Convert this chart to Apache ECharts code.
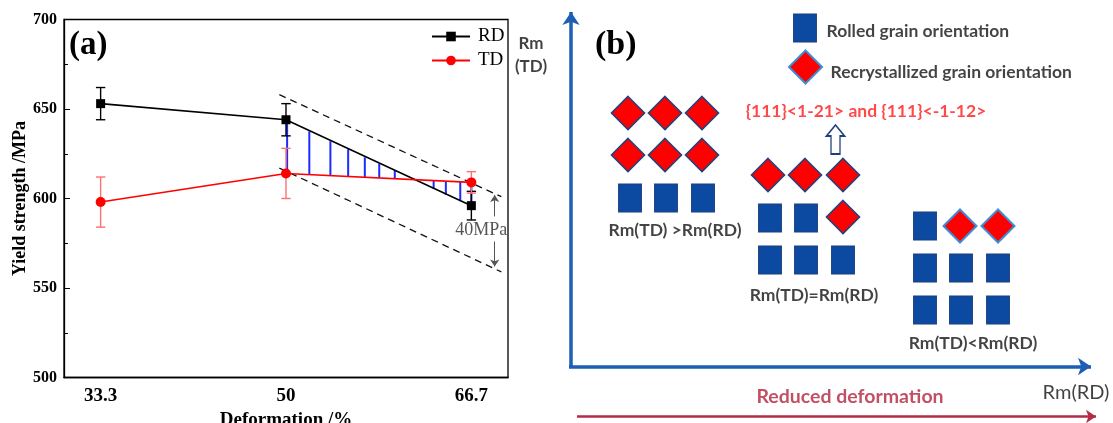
<!DOCTYPE html>
<html><head><meta charset="utf-8">
<script src="https://cdn.jsdelivr.net/npm/echarts@6/dist/echarts.min.js"></script>
<style>html,body{margin:0;padding:0;background:#fff}#c{width:1113px;height:423px}</style>
</head><body><div id="c"></div>
<script>
// ---------- Panel (a): yield strength vs deformation ----------
var deformation = [33.3, 50, 66.7];
var xTickLabels = [33.3, 50, 66.7];
var rdStrength = [653, 644, 596];
var rdError = [9, 9, 8];
var tdStrength = [598, 614, 609];
var tdError = [14, 14, 6];
// blue hatching between the RD and TD curves: x, RD end, TD end
var hatchX  = [50.1, 52.1, 54.0, 55.6, 57.1, 58.4, 59.8, 63.3, 64.4, 65.7, 66.7];
var hatchRD = [643, 637.5, 632, 627.5, 623, 619.5, 615.5, 605.5, 602, 598.5, 596];
var hatchTD = [614, 613.5, 613, 612.5, 612, 611.5, 611, 610, 609.5, 609.5, 609];
// dashed band
var bandUpper = [[49.4, 658], [69.4, 601]];
var bandLower = [[49.4, 617], [69.4, 559]];
// 40 MPa gap arrows
var gapArrowUp = [[68.8, 590], [68.8, 602]];
var gapArrowDown = [[68.8, 576], [68.8, 562]];
var gapLabel = [{name: '40MPa', value: [67.6, 582]}];

// ---------- Panel (b): schematic (schematic units) ----------
var squaresAll = [[630,198],[666,198],[703,198],
                  [770,218],[806,218],[770,260],[806,260],[843,260],
                  [925,226],[925,268],[961,268],[998,268],[925,310],[961,310],[998,310],
                  [805,28]];
var diamondsDark = [[628,113],[665,113],[702,113],[628,155],[665,155],[702,155],
                    [768,175],[805,175],[843,175],[843,217]];
var diamondsLight = [[960,226],[998,226],[805.5,67]];
var upArrow = [[835.5,139.5]];
var axisArrows = [[[571,368],[571,12]], [[569,366.5],[1091,366.5]]];
var deformArrow = [[[577,416.5],[1096,416.5]]];
var caseLabels = [
  {name:'Rm(TD) >Rm(RD)', value:[675,230]},
  {name:'Rm(TD)=Rm(RD)', value:[814,295]},
  {name:'Rm(TD)<Rm(RD)', value:[973,343]}
];
var legendLabels = [
  {name:'Rolled grain orientation', value:[826,31.5]},
  {name:'Recrystallized grain orientation', value:[830,72.5]}
];
var orientLabel = [{name:'{111}<1-21> and {111}<-1-12>', value:[866,111.5]}];
var deformLabel = [{name:'Reduced deformation', value:[850,396.5]}];
var rmRD = [{name:'Rm(RD)', value:[1076,393]}];
var rmTD = [{name:'Rm\n(TD)', value:[531,55]}];

var serif = '"Liberation Serif", "Times New Roman", serif';
var sans = 'Lato, "Open Sans", sans-serif';

function pairs(xs, ys){ return xs.map(function(x,i){ return [x, ys[i]]; }); }
function errData(xs, ys, es){ return xs.map(function(x,i){ return [x, ys[i]-es[i], ys[i]+es[i]]; }); }

function errRender(color){
  return function(params, api){
    var x = api.value(0);
    var lo = api.coord([x, api.value(1)]);
    var hi = api.coord([x, api.value(2)]);
    var w = 4.7, st = {stroke: color, lineWidth: 1.4};
    return {type:'group', children:[
      {type:'line', shape:{x1:lo[0],y1:lo[1],x2:hi[0],y2:hi[1]}, style:st},
      {type:'line', shape:{x1:lo[0]-w,y1:lo[1],x2:lo[0]+w,y2:lo[1]}, style:st},
      {type:'line', shape:{x1:hi[0]-w,y1:hi[1],x2:hi[0]+w,y2:hi[1]}, style:st}
    ]};
  };
}
function hatchRender(params, api){
  var a = api.coord([api.value(0), api.value(1)]);
  var b = api.coord([api.value(0), api.value(2)]);
  return {type:'line', shape:{x1:a[0],y1:a[1],x2:b[0],y2:b[1]}, style:{stroke:'#1a2cff', lineWidth:2}};
}
function textSeries(data, opt){
  return {type:'scatter', xAxisIndex:1, yAxisIndex:1, data:data, symbolSize:1,
    itemStyle:{color:'rgba(0,0,0,0)'}, silent:true, z:20,
    label:Object.assign({show:true, formatter:'{b}', position:'inside'}, opt)};
}

var chart = echarts.init(document.getElementById('c'));
var option = {
  animation:false,
  backgroundColor:'#fff',
  title:[
    {text:'(a)', left:69, top:27, padding:0, textStyle:{fontFamily:serif, fontWeight:'bold', fontSize:33, color:'#000', lineHeight:36}},
    {text:'(b)', left:595, top:27, padding:0, textStyle:{fontFamily:serif, fontWeight:'bold', fontSize:34, color:'#000', lineHeight:36}}
  ],
  legend:{data:['RD','TD'], orient:'vertical', left:431, top:27, padding:0, itemWidth:38, itemHeight:12, itemGap:5,
    textStyle:{fontFamily:serif, fontSize:19, color:'#000', padding:[0,0,0,3]}},
  grid:[
    {left:64, top:19.5, width:444, height:358, show:true, borderColor:'#000', borderWidth:1.3,
     backgroundColor:'transparent', outerBoundsMode:'none', containLabel:false},
    {left:500, top:0, width:613, height:423, outerBoundsMode:'none', containLabel:false}
  ],
  xAxis:[
    {gridIndex:0, type:'value', min:30, max:70,
     axisLine:{lineStyle:{color:'#000', width:1.3}}, axisTick:{show:false}, splitLine:{show:false},
     axisLabel:{customValues:xTickLabels, fontFamily:serif, fontWeight:'bold', fontSize:19, color:'#000', margin:9},
     name:'Deformation /%', nameLocation:'middle', nameGap:29,
     nameTextStyle:{fontFamily:serif, fontWeight:'bold', fontSize:19, color:'#000'}},
    {gridIndex:1, type:'value', min:500, max:1113, show:false}
  ],
  yAxis:[
    {gridIndex:0, type:'value', min:500, max:700, interval:50,
     axisLine:{show:true, lineStyle:{color:'#000', width:1.3}},
     axisTick:{show:true, inside:true, length:6, lineStyle:{color:'#000'}},
     minorTick:{show:true, splitNumber:2, length:4, lineStyle:{color:'#000'}},
     splitLine:{show:false},
     axisLabel:{fontFamily:serif, fontWeight:'bold', fontSize:16, color:'#000', margin:7},
     name:'Yield strength /MPa', nameLocation:'middle', nameGap:33,
     nameTextStyle:{fontFamily:serif, fontWeight:'bold', fontSize:18, color:'#000'}},
    {gridIndex:1, type:'value', min:0, max:423, inverse:true, show:false}
  ],
  series:[
    {type:'custom', name:'hatch', xAxisIndex:0, yAxisIndex:0, renderItem:hatchRender,
     encode:{x:0, y:[1,2]}, data:hatchX.map(function(x,i){return [x, hatchRD[i], hatchTD[i]];}), z:2, silent:true},
    {type:'custom', name:'RD err', xAxisIndex:0, yAxisIndex:0, renderItem:errRender('#000'),
     encode:{x:0, y:[1,2]}, data:errData(deformation, rdStrength, rdError), z:3, silent:true},
    {type:'custom', name:'TD err', xAxisIndex:0, yAxisIndex:0, renderItem:errRender('#ff7070'),
     encode:{x:0, y:[1,2]}, data:errData(deformation, tdStrength, tdError), z:3, silent:true},
    {type:'line', name:'RD', xAxisIndex:0, yAxisIndex:0, data:pairs(deformation, rdStrength),
     symbol:'rect', symbolSize:9, color:'#000', lineStyle:{color:'#000', width:1.6}, itemStyle:{color:'#000'}, z:5},
    {type:'line', name:'TD', xAxisIndex:0, yAxisIndex:0, data:pairs(deformation, tdStrength),
     symbol:'circle', symbolSize:10, color:'#ff0000', lineStyle:{color:'#ff0000', width:1.6}, itemStyle:{color:'#ff0000'}, z:5},
    {type:'lines', coordinateSystem:'cartesian2d', xAxisIndex:0, yAxisIndex:0, silent:true,
     data:[{coords:bandUpper},{coords:bandLower}],
     lineStyle:{color:'#111', width:1.3, type:[7,5], opacity:1}, z:4},
    {type:'lines', coordinateSystem:'cartesian2d', xAxisIndex:0, yAxisIndex:0, silent:true,
     data:[{coords:gapArrowUp},{coords:gapArrowDown}], symbol:['none','arrow'], symbolSize:7,
     lineStyle:{color:'#555', width:1, opacity:1}, z:4},
    {type:'scatter', xAxisIndex:0, yAxisIndex:0, data:gapLabel, symbolSize:1, silent:true,
     itemStyle:{color:'rgba(0,0,0,0)'},
     label:{show:true, formatter:'{b}', position:'inside', fontFamily:serif, fontSize:18, color:'#2a2a2a'}},

    // ----- panel (b) -----
    {type:'lines', coordinateSystem:'cartesian2d', xAxisIndex:1, yAxisIndex:1, silent:true,
     data:axisArrows.map(function(c){return {coords:c};}), symbol:['none','arrow'], symbolSize:13,
     lineStyle:{color:'#1d5fb5', width:3.5, opacity:1}},
    {type:'lines', coordinateSystem:'cartesian2d', xAxisIndex:1, yAxisIndex:1, silent:true,
     data:deformArrow.map(function(c){return {coords:c};}), symbol:['none','arrow'], symbolSize:10,
     lineStyle:{color:'#b52a44', width:2.5, opacity:1}},
    {type:'scatter', xAxisIndex:1, yAxisIndex:1, data:squaresAll, symbol:'rect', symbolSize:[23,28], silent:true,
     itemStyle:{color:'#0c4aa1', borderColor:'#1d3f7c', borderWidth:1, opacity:1}},
    {type:'scatter', xAxisIndex:1, yAxisIndex:1, data:diamondsDark, symbol:'diamond', symbolSize:[33,33], silent:true,
     itemStyle:{color:'#ff0000', borderColor:'#23407a', borderWidth:1.6, opacity:1}},
    {type:'scatter', xAxisIndex:1, yAxisIndex:1, data:diamondsLight, symbol:'diamond', symbolSize:[33,33], silent:true,
     itemStyle:{color:'#ff0000', borderColor:'#3b8fd6', borderWidth:2, opacity:1}},
    {type:'scatter', xAxisIndex:1, yAxisIndex:1, data:upArrow, silent:true,
     symbol:'path://M9,0 L18,11 L13.5,11 L13.5,29 L4.5,29 L4.5,11 L0,11 Z', symbolSize:[18,29], symbolKeepAspect:false,
     itemStyle:{color:'#ffffff', borderColor:'#1d3f7c', borderWidth:1.6, opacity:1}},
    textSeries(caseLabels, {fontFamily:sans, fontWeight:'bold', fontSize:17.5, color:'#141414'}),
    textSeries(legendLabels, {position:'right', distance:0, fontFamily:sans, fontWeight:'bold', fontSize:17.5, color:'#141414'}),
    textSeries(orientLabel, {fontFamily:sans, fontWeight:'bold', fontSize:17.5, color:'#ff1a1a'}),
    textSeries(deformLabel, {fontFamily:sans, fontWeight:'bold', fontSize:19.5, color:'#b3243e'}),
    textSeries(rmRD, {fontFamily:sans, fontWeight:'normal', fontSize:20, color:'#111'}),
    textSeries(rmTD, {fontFamily:sans, fontWeight:'bold', fontSize:17, color:'#111', lineHeight:23, align:'center'})
  ]
};
chart.setOption(option);
</script>
</body></html>
